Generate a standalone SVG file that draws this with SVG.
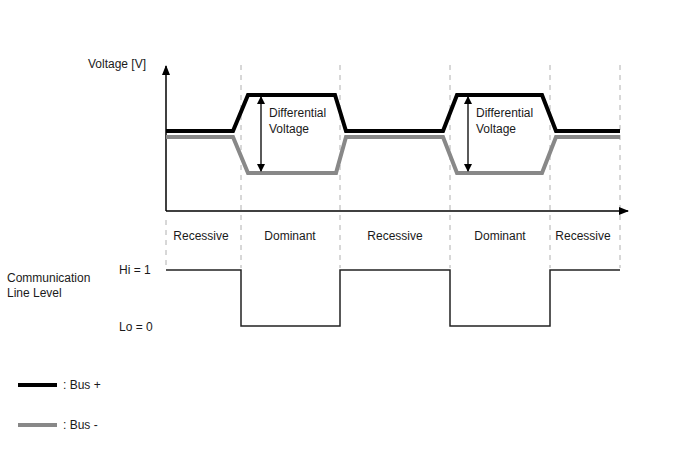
<svg xmlns="http://www.w3.org/2000/svg" width="688" height="463" viewBox="0 0 688 463">
<style>
text{font-family:"Liberation Sans",Arial,sans-serif;font-size:12px;fill:#1a1a1a}
.dash{stroke:#b0b0b0;stroke-width:1;stroke-dasharray:5 5;fill:none}
.busp{stroke:#000;stroke-width:4;fill:none;stroke-linejoin:miter}
.busm{stroke:#888;stroke-width:4;fill:none;stroke-linejoin:miter}
.axis{stroke:#000;stroke-width:1.5;fill:none}
.lvl{stroke:#222;stroke-width:1.5;fill:none}
.dv{stroke:#000;stroke-width:1.3;fill:none}
</style>
<defs>
<marker id="ah" markerWidth="10" markerHeight="8" refX="9" refY="4" orient="auto" markerUnits="userSpaceOnUse">
<path d="M0,0 L10,4 L0,8 Z" fill="#000"/>
</marker>
<marker id="sa" markerWidth="8" markerHeight="10" refX="7" refY="4" orient="auto-start-reverse" markerUnits="userSpaceOnUse">
<path d="M0,0 L8,4 L0,8 Z" fill="#000"/>
</marker>
</defs>
<g id="gridlines">
<line class="dash" x1="166" y1="220" x2="166" y2="268"/>
<line class="dash" x1="241" y1="65" x2="241" y2="268"/>
<line class="dash" x1="340" y1="65" x2="340" y2="268"/>
<line class="dash" x1="450" y1="65" x2="450" y2="268"/>
<line class="dash" x1="550" y1="65" x2="550" y2="268"/>
<line class="dash" x1="620" y1="65" x2="620" y2="268"/>
</g>
<g id="axes">
<line class="axis" x1="166" y1="211" x2="166" y2="66" marker-end="url(#ah)"/>
<line class="axis" x1="166" y1="211" x2="628" y2="211" marker-end="url(#ah)"/>
<text x="88" y="68">Voltage [V]</text>
</g>
<g id="bus-minus">
<polyline class="busm" points="166,137 233,137 248,173 336,173 346,137 443,137 457,173 542,173 556,137 620,137"/>
</g>
<g id="bus-plus">
<polyline class="busp" points="166,131 233,131 248,95 335,95 346,131 443,131 457,95 542,95 556,131 620,131"/>
</g>
<g id="connectors">
<line class="dv" x1="261" y1="97" x2="261" y2="171" marker-start="url(#sa)" marker-end="url(#sa)"/>
<line class="dv" x1="468" y1="97" x2="468" y2="171" marker-start="url(#sa)" marker-end="url(#sa)"/>
</g>
<g id="diff1">
<text x="269" y="117">Differential</text>
<text x="269" y="133">Voltage</text>
</g>
<g id="diff2">
<text x="476" y="117">Differential</text>
<text x="476" y="133">Voltage</text>
</g>
<g id="states">
<text x="201" y="240" text-anchor="middle">Recessive</text>
<text x="290" y="240" text-anchor="middle">Dominant</text>
<text x="395" y="240" text-anchor="middle">Recessive</text>
<text x="500" y="240" text-anchor="middle">Dominant</text>
<text x="583" y="240" text-anchor="middle">Recessive</text>
</g>
<g id="level">
<polyline class="lvl" points="166,270 241,270 241,326 340,326 340,270 450,270 450,326 550,326 550,270 620,270"/>
<text x="119" y="274">Hi = 1</text>
<text x="119" y="331">Lo = 0</text>
<text x="7" y="282">Communication</text>
<text x="7" y="297">Line Level</text>
</g>
<g id="legend">
<line class="busp" x1="18" y1="385" x2="57" y2="385"/>
<text x="63" y="389">: Bus +</text>
<line class="busm" x1="18" y1="425" x2="57" y2="425"/>
<text x="63" y="429">: Bus -</text>
</g>
</svg>
